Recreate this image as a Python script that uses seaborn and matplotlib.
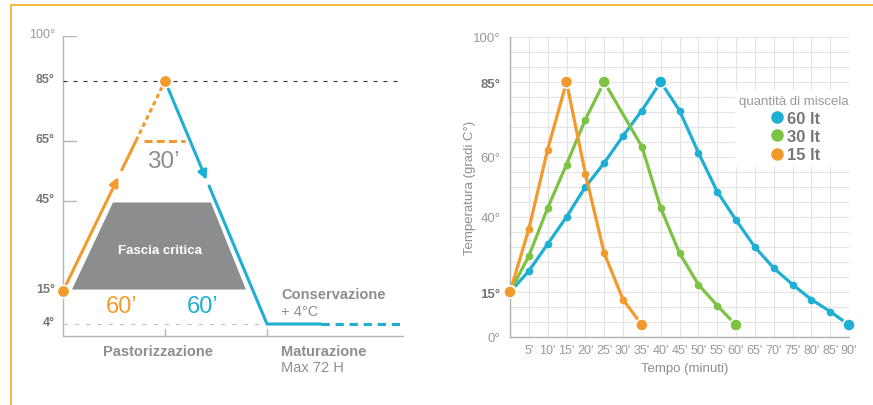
"""
Pastorizzazione e maturazione della miscela: schema del ciclo (sinistra)
e curve di temperatura per quantita' di miscela (destra).
"""
import numpy as np
import pandas as pd
import matplotlib
matplotlib.use("Agg")
import matplotlib.pyplot as plt
import seaborn as sns
from matplotlib.lines import Line2D

# --- dati: schema del ciclo (sinistra)
fase_tempo = [0, 60, 120, 200]        # inizio, picco, fine raffreddamento, fine conservazione
fase_temp = [15, 85, 4, 4]
schema_ticks = [100, 85, 65, 45, 15, 4]
critica_tempo = [5.3, 107.6, 87, 29.4]
critica_temp = [15.5, 15.5, 44.5, 44.5]
sosta_temp = 65                       # inizio tratto di sosta (30')

# --- dati: curve di temperatura (destra)
minuti_60 = [0, 5, 10, 15, 20, 25, 30, 35, 40, 45, 50, 55, 60, 65, 70, 75, 80, 85, 90]
temp_60 = [15, 22, 31, 40, 50, 58, 67, 75.5, 85, 75.5, 61.5, 48.5, 39, 30, 23, 17.5, 12.5, 8.5, 4]
minuti_30 = [0, 5, 10, 15, 20, 25, 35, 40, 45, 50, 55, 60]
temp_30 = [15, 27, 43, 57.5, 72.5, 85, 63.5, 43, 28, 17.5, 10.5, 4]
minuti_15 = [0, 5, 10, 15, 20, 25, 30, 35]
temp_15 = [15, 36, 62.5, 85, 54.5, 28, 12.5, 4]
quantita = ["60 lt", "30 lt", "15 lt"]
temp_ticks = [0, 15, 40, 60, 85, 100]
minuti_ticks = list(range(5, 95, 5))

ARANCIO = "#f39a2c"
VERDE = "#7cc243"
BLU = "#1fafd2"
GRIGIO = "#8e8e8e"
GRIGIO_SCURO = "#777777"
colori = {"60 lt": BLU, "30 lt": VERDE, "15 lt": ARANCIO}

sns.set_style("white")
plt.rcParams["font.family"] = ["Liberation Sans", "DejaVu Sans"]

W, H = 873, 406
fig = plt.figure(figsize=(W / 100, H / 100), dpi=100)

# cornice arancio (solo lato alto e sinistro visibili)
fig.add_artist(Line2D([11 / W, 1], [1 - 6 / H, 1 - 6 / H], transform=fig.transFigure,
                      color="#f9b52e", lw=1.3))
fig.add_artist(Line2D([11 / W, 11 / W], [0, 1 - 6 / H], transform=fig.transFigure,
                      color="#f9b52e", lw=1.3))

# ================= schema di sinistra =================
ax1 = fig.add_axes([63 / W, (H - 337) / H, 340 / W, 300 / H])
ax1.set_xlim(0, 200)
ax1.set_ylim(0, 100)
ax1.axis("off")

# assi
ax1.plot([0, 0], [0, 100], color="#b5b5b5", lw=1, clip_on=False)
ax1.plot([0, 200], [0, 0], color="#b5b5b5", lw=1, clip_on=False)
for t in [100, 65, 45]:
    ax1.plot([0, 7.6], [t, t], color="#b5b5b5", lw=1)
for x in fase_tempo[1:3]:
    ax1.plot([x, x], [0, 2.4], color="#b5b5b5", lw=1)
for t in schema_ticks:
    peso = "normal" if t == 100 else "bold"
    col = "#999999" if t == 100 else GRIGIO_SCURO
    ax1.text(-4.8, t + 0.8, f"{t}°", ha="right", va="center", fontsize=9,
             color=col, weight=peso)

# linee guida 85 e 4 gradi
ax1.plot([0, 200], [fase_temp[1]] * 2, color="#333333", lw=0.8, dashes=(3.6, 5.4))
ax1.plot([0, fase_tempo[2]], [fase_temp[2]] * 2, color="#c4c4c4", lw=0.9, dashes=(3.6, 5.4))

# fascia critica
ax1.fill(critica_tempo, critica_temp, color="#8b8d8f", lw=0)
ax1.text(np.mean(critica_tempo), 28.5, "Fascia critica", ha="center", va="center",
         color="white", fontsize=9.5, weight="bold")

# riscaldamento (arancio)
def t_salita(T):
    return np.interp(T, [fase_temp[0], fase_temp[1]], [fase_tempo[0], fase_tempo[1]])

ax1.annotate("", xy=(t_salita(53), 53), xytext=(fase_tempo[0], fase_temp[0]),
             arrowprops=dict(arrowstyle="-|>", color=ARANCIO, lw=2.2,
                             mutation_scale=13, shrinkA=0, shrinkB=0))
ax1.plot([t_salita(55), t_salita(sosta_temp)], [55, sosta_temp], color=ARANCIO,
         lw=2.2, solid_capstyle="butt")
ax1.plot([t_salita(sosta_temp), t_salita(fase_temp[1])], [sosta_temp, fase_temp[1]],
         color=ARANCIO, lw=2.2, dashes=(1.5, 1.1))

# raffreddamento (blu)
def t_discesa(T):
    return np.interp(T, [fase_temp[2], fase_temp[1]], [fase_tempo[2], fase_tempo[1]])

ax1.annotate("", xy=(t_discesa(52), 52), xytext=(fase_tempo[1], fase_temp[1]),
             arrowprops=dict(arrowstyle="-|>", color=BLU, lw=2.2,
                             mutation_scale=13, shrinkA=0, shrinkB=0))
ax1.plot([t_discesa(50), fase_tempo[2], 152], [50, fase_temp[2], fase_temp[3]],
         color=BLU, lw=2.2, solid_joinstyle="miter")
ax1.plot([152, fase_tempo[3]], [fase_temp[3]] * 2, color=BLU, lw=2.2, dashes=(2.7, 1.9))

# sosta a 65 gradi
ax1.plot([t_salita(sosta_temp) + 5, t_discesa(sosta_temp) - 3], [sosta_temp] * 2,
         color=ARANCIO, lw=2.2, dashes=(2.6, 1.4))
ax1.text(58.8, 58.5, "30’", ha="center", va="center", fontsize=17.5, color=GRIGIO)

# punti arancio
ax1.scatter(fase_tempo[:2], fase_temp[:2], s=80, color=ARANCIO, edgecolor="white",
            linewidth=1.2, zorder=5, clip_on=False)

ax1.text(34.7, 10, "60’", ha="center", va="center", fontsize=17, color=ARANCIO)
ax1.text(81.8, 10, "60’", ha="center", va="center", fontsize=17, color=BLU)
ax1.text(128.5, 14, "Conservazione", ha="left", va="center", fontsize=10.5,
         weight="bold", color=GRIGIO)
ax1.text(128.5, 8.3, "+ 4°C", ha="left", va="center", fontsize=10.5, color=GRIGIO)
ax1.text(55.9, -5, "Pastorizzazione", ha="center", va="center", fontsize=10.5,
         weight="bold", color=GRIGIO)
ax1.text(128.5, -5, "Maturazione", ha="left", va="center", fontsize=10.5,
         weight="bold", color=GRIGIO)
ax1.text(128.5, -10.4, "Max 72 H", ha="left", va="center", fontsize=10.5, color=GRIGIO)

# ================= curve di destra =================
ax2 = fig.add_axes([510 / W, (H - 338) / H, 339 / W, 300 / H])

df = pd.concat([
    pd.DataFrame({"minuti": minuti_60, "temp": temp_60, "quantita": "60 lt"}),
    pd.DataFrame({"minuti": minuti_30, "temp": temp_30, "quantita": "30 lt"}),
    pd.DataFrame({"minuti": minuti_15, "temp": temp_15, "quantita": "15 lt"}),
], ignore_index=True)

sns.lineplot(data=df, x="minuti", y="temp", hue="quantita", hue_order=quantita,
             palette=colori, marker="o", markersize=5.5, markeredgewidth=0,
             linewidth=2.3, legend=False, ax=ax2)

# punti grandi: inizio, picco e fine di ogni curva
estremi = df.groupby("quantita", sort=False).apply(
    lambda g: g.loc[[g.index[0], g["temp"].idxmax(), g.index[-1]]]
).reset_index(drop=True)
sns.scatterplot(data=estremi, x="minuti", y="temp", hue="quantita", hue_order=quantita,
                palette=colori, s=78, edgecolor="white", linewidth=1.2, zorder=5,
                legend=False, clip_on=False, ax=ax2)

ax2.set_xlim(0, 90)
ax2.set_ylim(0, 100)
ax2.set_xticks(minuti_ticks)
ax2.set_xticklabels([f"{m}'" for m in minuti_ticks])
ax2.set_xticks(range(0, 95, 5), minor=True)
ax2.set_yticks(temp_ticks)
ax2.set_yticklabels([f"{t}°" for t in temp_ticks])
ax2.set_yticks(range(0, 105, 5), minor=True)
ax2.grid(which="both", color="#e4e4e4", lw=0.8)
ax2.set_axisbelow(True)
ax2.tick_params(which="both", length=0)
ax2.tick_params(axis="x", labelsize=9, labelcolor="#999999", pad=5)
ax2.tick_params(axis="y", labelsize=9.5, labelcolor="#999999", pad=7)
for lab in ax2.get_yticklabels():
    if lab.get_text() in ("85°", "15°"):
        lab.set_weight("bold")
        lab.set_color(GRIGIO_SCURO)
for s in ["top", "right"]:
    ax2.spines[s].set_visible(False)
for s in ["left", "bottom"]:
    ax2.spines[s].set_color("#b0b0b0")
    ax2.spines[s].set_linewidth(1)

ax2.set_xlabel("Tempo (minuti)", fontsize=9.5, color=GRIGIO)
ax2.set_ylabel("Temperatura (gradi C°)", fontsize=9.5, color=GRIGIO)
ax2.xaxis.set_label_coords(0.516, -0.085)
ax2.yaxis.set_label_coords(-0.10, 0.5)

handles = [Line2D([], [], ls="", marker="o", markersize=8, color=colori[q]) for q in quantita]
leg = ax2.legend(handles, quantita, title="quantità di miscela", loc="upper center",
                 bbox_to_anchor=((794 - 510) / 339, (338 - 84) / 300),
                 frameon=True, facecolor="white", edgecolor="none", framealpha=1,
                 fancybox=False, borderpad=0.25, handletextpad=0.1, handlelength=1.0,
                 labelspacing=0.2, prop=dict(weight="bold", size=12),
                 title_fontproperties=dict(size=9.5), labelcolor=GRIGIO_SCURO)
leg.get_title().set_color("#9a9a9a")

fig.savefig("out.png", dpi=100)
